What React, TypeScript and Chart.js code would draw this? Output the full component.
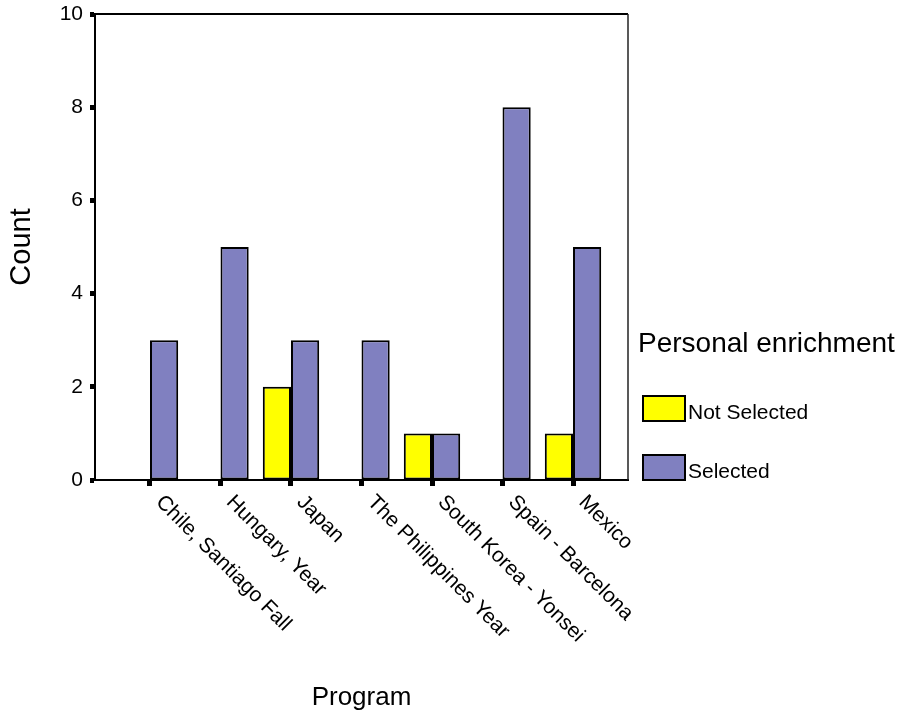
import React, { useEffect, useRef } from 'react';
import { Chart, registerables } from 'chart.js';

Chart.register(...registerables);

const programs = [
  'Chile, Santiago Fall',
  'Hungary, Year',
  'Japan',
  'The Philippines Year',
  'South Korea - Yonsei',
  'Spain - Barcelona',
  'Mexico',
];
const notSelected = [0, 0, 2, 0, 1, 0, 1];
const selected = [3, 5, 3, 3, 1, 8, 5];
const yTicks = [0, 2, 4, 6, 8, 10];
const seriesLabels = ['Not Selected', 'Selected'];
const legendTitle = 'Personal enrichment';
const xTitle = 'Program';
const yTitle = 'Count';

const FONT = "'Liberation Sans', Arial, Helvetica, sans-serif";
const YELLOW = '#FFFF00';
const PURPLE = '#8080C0';

const xLabelPlugin = {
  id: 'xLabels',
  afterDraw(chart: any) {
    const xs = chart.scales.x;
    const { ctx, chartArea } = chart;
    ctx.save();
    ctx.font = `21px ${FONT}`;
    ctx.fillStyle = '#000';
    ctx.textAlign = 'left';
    ctx.textBaseline = 'middle';
    programs.forEach((p, i) => {
      const x = xs.getPixelForValue(i);
      ctx.save();
      ctx.translate(x + 9, chartArea.bottom + 19);
      ctx.rotate(Math.PI / 4);
      ctx.fillText(p, 0, 0);
      ctx.restore();
    });
    ctx.restore();
  },
};

const framePlugin = {
  id: 'frame',
  afterDraw(chart: any) {
    const { ctx, chartArea } = chart;
    ctx.save();
    ctx.strokeStyle = '#000';
    ctx.lineWidth = 2;
    ctx.beginPath();
    ctx.moveTo(chartArea.left, chartArea.top);
    ctx.lineTo(chartArea.right, chartArea.top);
    ctx.stroke();
    ctx.lineWidth = 1.5;
    ctx.strokeStyle = '#222';
    ctx.beginPath();
    ctx.moveTo(chartArea.right, chartArea.top);
    ctx.lineTo(chartArea.right, chartArea.bottom);
    ctx.stroke();
    ctx.restore();
  },
};

const legendPlugin = {
  id: 'customLegend',
  afterDraw(chart: any) {
    const { ctx, chartArea } = chart;
    const x0 = chartArea.right;
    ctx.save();
    ctx.fillStyle = '#000';
    ctx.textAlign = 'left';
    ctx.textBaseline = 'alphabetic';
    ctx.font = `28px ${FONT}`;
    ctx.fillText(legendTitle, x0 + 10, 352);
    const rows = [396, 455];
    chart.data.datasets.forEach((ds: any, i: number) => {
      const y = rows[i];
      ctx.fillStyle = ds.backgroundColor;
      ctx.fillRect(x0 + 15, y, 42, 25);
      ctx.strokeStyle = '#000';
      ctx.lineWidth = 2;
      ctx.strokeRect(x0 + 15, y, 42, 25);
      ctx.fillStyle = '#000';
      ctx.font = `21px ${FONT}`;
      ctx.fillText(ds.label, x0 + 60, y + 23);
    });
    ctx.restore();
  },
};

export default function App() {
  const canvasRef = useRef<HTMLCanvasElement | null>(null);

  useEffect(() => {
    if (!canvasRef.current) return;
    const bw = (c: any) => (c.raw && c.raw.y ? 2 : 0);
    const chart = new Chart(canvasRef.current, {
      type: 'bar',
      data: {
        datasets: [
          {
            label: seriesLabels[0],
            data: notSelected.map((v, i) => ({ x: i, y: v })),
            backgroundColor: YELLOW,
            borderColor: '#000',
            borderWidth: bw,
            borderSkipped: false,
            categoryPercentage: 0.8,
            barPercentage: 1,
          },
          {
            label: seriesLabels[1],
            data: selected.map((v, i) => ({ x: i, y: v })),
            backgroundColor: PURPLE,
            borderColor: '#000',
            borderWidth: bw,
            borderSkipped: false,
            categoryPercentage: 0.8,
            barPercentage: 1,
          },
        ],
      },
      options: {
        responsive: false,
        maintainAspectRatio: false,
        animation: false,
        devicePixelRatio: 1,
        layout: { padding: { top: 14, right: 275, bottom: 0, left: 0 } },
        plugins: {
          legend: { display: false },
          tooltip: { enabled: false },
        },
        scales: {
          x: {
            type: 'linear',
            offset: false,
            min: -0.78,
            max: 6.78,
            afterBuildTicks: (scale: any) => {
              scale.ticks = programs.map((_, i) => ({ value: i }));
            },
            afterFit: (scale: any) => {
              scale.height = 239;
              scale.paddingLeft = 0;
              scale.paddingRight = 0;
            },
            grid: {
              offset: false,
              drawOnChartArea: false,
              drawTicks: true,
              tickLength: 6,
              tickWidth: 5,
              tickColor: '#000',
              color: '#000',
            },
            border: { display: true, color: '#000', width: 2 },
            ticks: { display: false },
            title: {
              display: true,
              text: xTitle,
              color: '#000',
              font: { family: FONT, size: 26 },
              padding: { top: 0, bottom: 6 },
            },
          },
          y: {
            min: 0,
            max: 10,
            afterBuildTicks: (scale: any) => {
              scale.ticks = yTicks.map((v) => ({ value: v }));
            },
            afterFit: (scale: any) => {
              scale.width = 95;
              scale.paddingTop = 0;
              scale.paddingBottom = 0;
            },
            ticks: {
              color: '#000',
              font: { family: FONT, size: 21 },
              padding: 7,
            },
            grid: {
              drawOnChartArea: false,
              drawTicks: true,
              tickLength: 5,
              tickWidth: 5,
              tickColor: '#000',
              color: '#000',
            },
            border: { display: true, color: '#000', width: 2 },
            title: {
              display: true,
              text: yTitle,
              color: '#000',
              font: { family: FONT, size: 29 },
              padding: { top: 5, bottom: 0 },
            },
          },
        },
      } as any,
      plugins: [xLabelPlugin, framePlugin, legendPlugin],
    });
    return () => chart.destroy();
  }, []);

  return (
    <div style={{ position: 'absolute', left: 0, top: 0, width: 903, height: 719, background: '#fff' }}>
      <canvas ref={canvasRef} width={903} height={719} style={{ display: 'block' }} />
    </div>
  );
}
